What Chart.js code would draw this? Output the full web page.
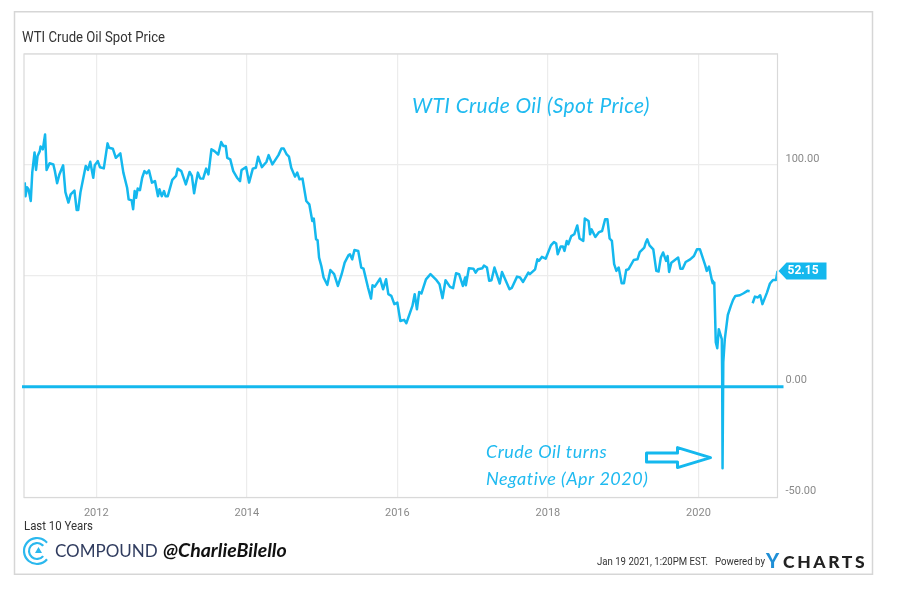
<!DOCTYPE html>
<html>
<head>
<meta charset="utf-8">
<title>WTI Crude Oil Spot Price</title>
<script src="https://cdn.jsdelivr.net/npm/chart.js@4"></script>
<style>
  html, body { margin: 0; padding: 0; background: #fff; }
  #box { width: 900px; height: 603px; }
</style>
</head>
<body>
<div id="box"><canvas id="myChart" width="900" height="603"></canvas></div>
<script>
// values
const oilYears = [
  2011.05, 2011.06, 2011.08, 2011.10, 2011.13, 2011.15, 2011.18, 2011.20, 2011.22, 2011.25,
  2011.26, 2011.29, 2011.32, 2011.34, 2011.38, 2011.43, 2011.45, 2011.48, 2011.51, 2011.56,
  2011.59, 2011.63, 2011.66, 2011.71, 2011.74, 2011.76, 2011.79, 2011.83, 2011.86, 2011.89,
  2011.92, 2011.96, 2011.98, 2012.02, 2012.05, 2012.10, 2012.15, 2012.17, 2012.22, 2012.26,
  2012.32, 2012.36, 2012.41, 2012.43, 2012.47, 2012.49, 2012.51, 2012.53, 2012.55, 2012.58,
  2012.61, 2012.64, 2012.67, 2012.70, 2012.74, 2012.78, 2012.82, 2012.84, 2012.87, 2012.90,
  2012.92, 2012.95, 2013.01, 2013.06, 2013.08, 2013.13, 2013.19, 2013.24, 2013.27, 2013.30,
  2013.32, 2013.35, 2013.38, 2013.42, 2013.46, 2013.49, 2013.53, 2013.57, 2013.62, 2013.66,
  2013.69, 2013.72, 2013.74, 2013.78, 2013.82, 2013.87, 2013.91, 2013.93, 2013.99, 2014.03,
  2014.08, 2014.12, 2014.15, 2014.20, 2014.26, 2014.29, 2014.34, 2014.42, 2014.46, 2014.49,
  2014.53, 2014.56, 2014.59, 2014.64, 2014.67, 2014.70, 2014.74, 2014.79, 2014.83, 2014.87,
  2014.89, 2014.92, 2014.94, 2014.96, 2014.99, 2015.02, 2015.07, 2015.11, 2015.16, 2015.21,
  2015.26, 2015.30, 2015.35, 2015.37, 2015.40, 2015.43, 2015.48, 2015.52, 2015.55, 2015.61,
  2015.65, 2015.67, 2015.70, 2015.77, 2015.81, 2015.85, 2015.88, 2015.92, 2015.96, 2016.00,
  2016.04, 2016.09, 2016.12, 2016.20, 2016.23, 2016.26, 2016.29, 2016.32, 2016.38, 2016.44,
  2016.52, 2016.56, 2016.60, 2016.64, 2016.70, 2016.74, 2016.78, 2016.82, 2016.87, 2016.90,
  2016.91, 2016.95, 2017.01, 2017.04, 2017.07, 2017.13, 2017.15, 2017.19, 2017.22, 2017.25,
  2017.29, 2017.36, 2017.39, 2017.49, 2017.52, 2017.59, 2017.63, 2017.67, 2017.74, 2017.76,
  2017.83, 2017.86, 2017.88, 2017.92, 2017.97, 2018.04, 2018.08, 2018.11, 2018.13, 2018.17,
  2018.20, 2018.22, 2018.25, 2018.27, 2018.31, 2018.35, 2018.39, 2018.42, 2018.47, 2018.49,
  2018.54, 2018.56, 2018.58, 2018.63, 2018.68, 2018.72, 2018.76, 2018.79, 2018.82, 2018.85,
  2018.88, 2018.91, 2018.94, 2018.98, 2019.01, 2019.04, 2019.07, 2019.14, 2019.19, 2019.22,
  2019.28, 2019.30, 2019.32, 2019.35, 2019.40, 2019.44, 2019.47, 2019.50, 2019.53, 2019.57,
  2019.59, 2019.61, 2019.64, 2019.73, 2019.76, 2019.79, 2019.83, 2019.89, 2019.94, 2019.98,
  2020.02, 2020.09, 2020.11, 2020.14, 2020.18, 2020.19, 2020.21, 2020.23, 2020.25, 2020.27,
  2020.31, 2020.315, 2020.32, 2020.33, 2020.35, 2020.39, 2020.43, 2020.46, 2020.49, 2020.55,
  2020.60, 2020.65, 2020.68, 2020.70, 2020.72, 2020.75, 2020.79, 2020.82, 2020.85, 2020.91,
  2020.95, 2020.99, 2021.03, 2021.05
];
const oilPrices = [
  92.1, 85.8, 89.9, 89.0, 83.7, 96.6, 105.6, 97.7, 104.0, 106.2,
  108.3, 107.0, 113.7, 97.7, 100.7, 100.2, 97.2, 91.7, 95.7, 99.8,
  87.7, 83.0, 86.7, 88.4, 79.6, 79.6, 87.6, 94.4, 99.5, 97.7,
  101.4, 94.2, 99.8, 101.7, 98.9, 98.4, 109.7, 107.7, 107.3, 103.2,
  105.2, 96.5, 89.7, 84.5, 84.0, 80.0, 88.2, 85.2, 89.3, 88.6,
  94.2, 97.2, 96.2, 97.5, 92.0, 92.7, 85.9, 89.0, 85.9, 88.2,
  85.9, 85.9, 93.2, 95.0, 98.3, 97.2, 91.2, 96.8, 95.0, 87.2,
  91.2, 96.5, 93.9, 93.8, 98.3, 95.7, 107.0, 106.2, 104.7, 110.3,
  108.5, 108.5, 103.2, 102.5, 97.2, 94.2, 92.7, 97.7, 99.0, 92.0,
  98.3, 98.7, 103.7, 99.0, 101.3, 104.4, 100.2, 104.4, 107.4, 107.4,
  104.7, 103.7, 98.7, 94.7, 96.5, 93.5, 93.8, 83.7, 82.2, 74.7,
  75.8, 66.4, 66.1, 58.2, 54.4, 49.2, 45.9, 52.6, 50.7, 45.4,
  50.7, 55.9, 59.2, 59.7, 57.4, 61.6, 61.2, 53.7, 53.2, 44.7,
  39.7, 45.7, 45.1, 48.7, 43.9, 48.4, 41.7, 40.9, 37.2, 37.9,
  29.6, 30.1, 28.6, 36.4, 41.7, 34.9, 42.7, 42.0, 48.4, 50.7,
  48.0, 46.2, 39.9, 48.0, 45.0, 44.4, 51.1, 50.7, 45.4, 49.2,
  45.7, 53.4, 53.2, 51.4, 52.9, 53.4, 54.6, 53.7, 47.7, 48.0,
  53.7, 46.5, 51.7, 43.9, 44.5, 49.6, 49.2, 47.2, 51.4, 50.7,
  52.9, 57.4, 56.7, 58.5, 57.7, 63.7, 65.2, 64.5, 59.7, 63.2,
  63.2, 61.2, 65.7, 64.2, 67.9, 68.7, 72.7, 66.8, 65.7, 75.8,
  74.7, 68.7, 70.9, 67.5, 69.7, 70.2, 75.5, 75.5, 66.8, 65.7,
  55.2, 52.2, 53.7, 46.6, 46.6, 52.6, 52.9, 57.1, 57.4, 60.7,
  62.7, 65.0, 66.4, 63.7, 61.9, 52.2, 51.9, 58.2, 60.5, 56.7,
  58.9, 51.7, 55.9, 58.2, 53.2, 53.2, 56.2, 57.4, 58.9, 61.9,
  61.9, 54.7, 52.2, 54.1, 47.7, 46.6, 46.9, 20.0, 17.3, 25.9,
  21.4, 4.7, -36.8, 11.0, 21.4, 32.3, 36.4, 39.1, 40.9, 41.2,
  42.1, 43.2, 43.0, null, 37.6, 40.6, 40.2, 41.2, 37.2, 42.4,
  46.5, 48.1, 48.1, 52.15
];
const yearTicks = [2012, 2014, 2016, 2018, 2020];
const priceTicks = [-50, 0, 50, 100, 150];
const labelledPrices = [-50, 0, 100];
const lastPrice = 52.15;
const arrowTip = { year: 2020.16, price: -32 };

const blue = "#14b8ee";

// frame, notes, logos and the last-price flag
const extras = {
  id: "extras",
  beforeDraw(chart) {
    const c = chart.ctx;
    c.save();
    c.fillStyle = "#fff";
    c.fillRect(0, 0, 900, 603);
    c.strokeStyle = "#d6d6d6";
    c.lineWidth = 1.5;
    c.strokeRect(14.5, 11.75, 858, 562.5);
    c.restore();
  },
  afterDraw(chart) {
    const c = chart.ctx, a = chart.chartArea;
    const x = chart.scales.x, y = chart.scales.y;
    c.save();

    // plot border
    c.strokeStyle = "#d9d9d9";
    c.lineWidth = 1.2;
    c.strokeRect(a.left, a.top, a.right - a.left, a.bottom - a.top);

    // zero line runs a bit past the plot on both sides
    const zero = y.getPixelForValue(0);
    c.strokeStyle = blue;
    c.lineWidth = 3;
    c.beginPath();
    c.moveTo(a.left - 2, zero);
    c.lineTo(a.right + 6, zero);
    c.stroke();

    c.textBaseline = "middle";
    c.textAlign = "left";

    // last price flag
    const ly = y.getPixelForValue(lastPrice);
    c.fillStyle = blue;
    c.beginPath();
    c.moveTo(a.right + 1, ly);
    c.lineTo(a.right + 9, ly - 8.5);
    c.lineTo(a.right + 49, ly - 8.5);
    c.lineTo(a.right + 49, ly + 8.5);
    c.lineTo(a.right + 9, ly + 8.5);
    c.closePath();
    c.fill();
    c.fillStyle = "#fff";
    c.font = "700 12px Roboto";
    c.fillText("52.15", a.right + 10, ly + 0.5);

    // titles and footer
    c.fillStyle = "#333";
    c.font = "400 14.5px Roboto";
    c.fillText("WTI Crude Oil Spot Price", 22, 38, 143);
    c.font = "400 12px Roboto";
    c.fillText("Last 10 Years", 24, 527, 69);
    c.font = "400 11px Roboto";
    c.fillText("Jan 19 2021, 1:20PM EST.", 597, 562.5, 111);
    c.fillText("Powered by", 715, 562.5, 50);

    // hand written notes
    c.fillStyle = "#1fbaf0";
    c.font = "italic 400 21px Lato";
    c.letterSpacing = "0.4px";
    c.fillText("WTI Crude Oil (Spot Price)", 412, 106);
    c.font = "italic 400 18px Lato";
    c.letterSpacing = "0.5px";
    c.fillText("Crude Oil turns", 486, 452);
    c.fillText("Negative (Apr 2020)", 486, 479);
    c.letterSpacing = "0px";

    // arrow pointing at the low
    const tx = x.getPixelForValue(arrowTip.year), ty = y.getPixelForValue(arrowTip.price);
    c.strokeStyle = blue;
    c.lineWidth = 3;
    c.lineJoin = "round";
    c.beginPath();
    c.moveTo(tx - 64, ty - 4.5);
    c.lineTo(tx - 33, ty - 4.5);
    c.lineTo(tx - 33, ty - 10);
    c.lineTo(tx, ty);
    c.lineTo(tx - 33, ty + 10);
    c.lineTo(tx - 33, ty + 4.5);
    c.lineTo(tx - 64, ty + 4.5);
    c.closePath();
    c.stroke();

    // compound logo
    c.strokeStyle = "#2bb8ee";
    c.lineWidth = 2.2;
    [13, 8].forEach(function (r) {
      c.beginPath();
      c.arc(37, 551, r, 0.22 * Math.PI, 1.78 * Math.PI, false);
      c.stroke();
    });
    c.fillStyle = "#2bb8ee";
    c.beginPath();
    c.moveTo(38.5, 547);
    c.lineTo(42, 553);
    c.lineTo(35, 553);
    c.closePath();
    c.fill();

    c.fillStyle = "#303c5f";
    c.font = "400 17px Lato";
    c.fillText("COMPOUND", 55, 551.5);
    c.fillStyle = "#111";
    c.font = "italic 700 19.5px Lato";
    c.fillText("@CharlieBilello", 163, 551);

    // ycharts logo
    c.fillStyle = "#1f8fd6";
    c.font = "900 20px Lato";
    c.fillText("Y", 766, 562);
    c.fillStyle = "#222";
    c.font = "900 17.5px Lato";
    c.letterSpacing = "2.6px";
    c.fillText("CHARTS", 783, 562);
    c.restore();
  },
};

window.onload = function () {
  const ctx = document.getElementById("myChart").getContext("2d");

  new Chart(ctx, {
    type: "line",
    data: {
      datasets: [
        {
          label: "WTI Crude Oil Spot Price",
          data: oilYears.map((yr, i) => ({ x: yr, y: oilPrices[i] })),
          borderColor: blue,
          borderWidth: 2.5,
          pointRadius: 0,
          tension: 0,
          spanGaps: false,
          borderJoinStyle: "round",
        },
      ],
    },
    options: {
      responsive: false,
      animation: false,
      layout: { padding: { top: 54, left: 24, right: 0, bottom: 0 } },
      plugins: { legend: { display: false }, tooltip: { enabled: false } },
      scales: {
        x: {
          type: "linear",
          min: 2011.04,
          max: 2021.05,
          afterBuildTicks: (s) => {
            s.ticks = yearTicks.map((v) => ({ value: v }));
          },
          afterFit: (s) => {
            s.height = 105.5;
          },
          grid: { color: "#ececec", lineWidth: 1.2, drawTicks: false },
          border: { display: false },
          ticks: {
            padding: 9.5,
            maxRotation: 0,
            color: "#8a8a8a",
            font: { family: "Roboto", size: 11 },
            callback: (v) => String(v),
          },
        },
        y: {
          position: "right",
          min: -50,
          max: 150,
          afterBuildTicks: (s) => {
            s.ticks = priceTicks.map((v) => ({ value: v }));
          },
          afterFit: (s) => {
            s.width = 122.5;
          },
          grid: { color: "#ececec", lineWidth: 1.2, drawTicks: false },
          border: { display: false },
          ticks: {
            padding: 8,
            labelOffset: -6,
            color: "#8a8a8a",
            font: { family: "Roboto", size: 11 },
            callback: (v) => (labelledPrices.includes(v) ? v.toFixed(2) : ""),
          },
        },
      },
    },
    plugins: [extras],
  });
};
</script>
</body>
</html>
